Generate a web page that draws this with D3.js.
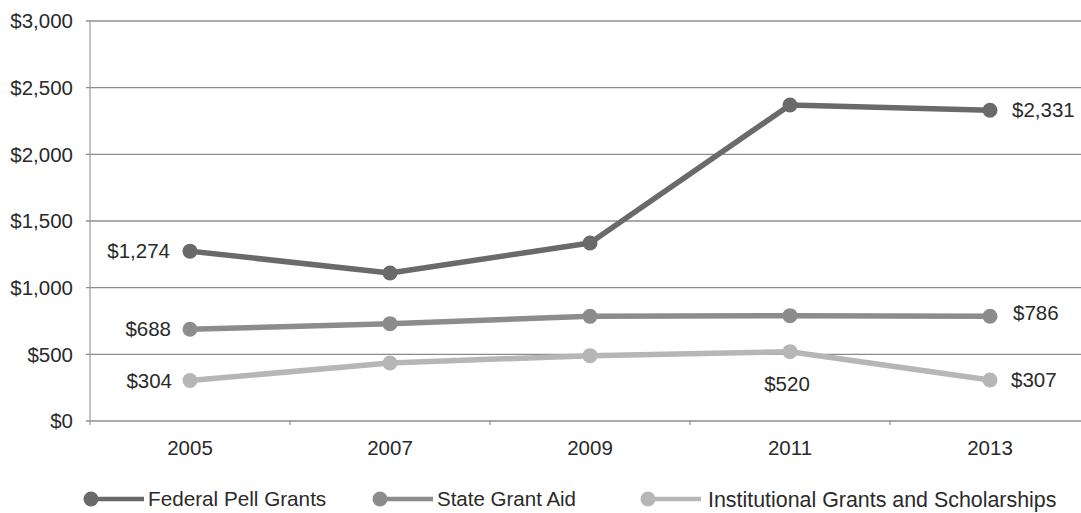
<!DOCTYPE html>
<html>
<head>
<meta charset="utf-8">
<script src="https://cdn.jsdelivr.net/npm/d3@7"></script>
<style>
  html, body { margin: 0; padding: 0; background: #fff; }
  svg { display: block; font-family: "Liberation Sans", Arial, Helvetica, sans-serif; }
</style>
</head>
<body>
<svg id="chart" width="1081" height="513"></svg>
<script>
// Average aid per student, by source and year
const years = ["2005", "2007", "2009", "2011", "2013"];
const pellGrants = [1274, 1110, 1335, 2370, 2331];
const stateAid = [688, 730, 785, 790, 786];
const institutionalAid = [304, 435, 490, 520, 307];
const seriesNames = ["Federal Pell Grants", "State Grant Aid", "Institutional Grants and Scholarships"];
const yTicks = [0, 500, 1000, 1500, 2000, 2500, 3000];

const series = [
  { name: seriesNames[0], values: pellGrants, color: "#6a6a6a" },
  { name: seriesNames[1], values: stateAid, color: "#8c8c8c" },
  { name: seriesNames[2], values: institutionalAid, color: "#b6b6b6" }
];

const svg = d3.select("#chart");
const fmt = v => "$" + d3.format(",")(v);
const fontSize = 20.5;
const textColor = "#2a2a2a";

const x = d3.scalePoint().domain(years).range([90, 1090]).padding(0.5);
const y = d3.scaleLinear().domain([0, 3000]).range([421, 21]);

// horizontal gridlines
svg.append("g")
  .selectAll("line")
  .data(yTicks)
  .join("line")
  .attr("x1", 86).attr("x2", 1081)
  .attr("y1", d => y(d)).attr("y2", d => y(d))
  .attr("stroke", "#8c8c8c")
  .attr("stroke-width", 1.3);

// y axis line
svg.append("line")
  .attr("x1", 90).attr("x2", 90)
  .attr("y1", y(3000)).attr("y2", y(0) + 4)
  .attr("stroke", "#9a9a9a")
  .attr("stroke-width", 1.2);

// y tick labels
svg.append("g")
  .selectAll("text")
  .data(yTicks)
  .join("text")
  .attr("x", 73)
  .attr("y", d => y(d))
  .attr("dy", "0.35em")
  .attr("text-anchor", "end")
  .attr("font-size", fontSize)
  .attr("fill", textColor)
  .text(d => fmt(d));

// x ticks sit between categories
const step = x.step();
const boundaries = years.slice(1).map(yr => x(yr) - step / 2);
svg.append("g")
  .selectAll("line")
  .data(boundaries)
  .join("line")
  .attr("x1", d => d).attr("x2", d => d)
  .attr("y1", y(0)).attr("y2", y(0) + 4)
  .attr("stroke", "#8c8c8c")
  .attr("stroke-width", 1.2);

// x labels
svg.append("g")
  .selectAll("text")
  .data(years)
  .join("text")
  .attr("x", d => x(d))
  .attr("y", 448)
  .attr("dy", "0.35em")
  .attr("text-anchor", "middle")
  .attr("font-size", fontSize)
  .attr("fill", textColor)
  .text(d => d);

// lines and markers
const line = d3.line().x((d, i) => x(years[i])).y(d => y(d));
const plot = svg.append("g");
[...series].reverse().forEach(s => {
  plot.append("path")
    .datum(s.values)
    .attr("d", line)
    .attr("fill", "none")
    .attr("stroke", s.color)
    .attr("stroke-width", 5.5)
    .attr("stroke-linejoin", "round");
  plot.selectAll(null)
    .data(s.values)
    .join("circle")
    .attr("cx", (d, i) => x(years[i]))
    .attr("cy", d => y(d))
    .attr("r", 7.5)
    .attr("fill", s.color);
});

// value labels
const labels = [
  { s: 0, i: 0, anchor: "end", dx: -20, dy: 0 },
  { s: 0, i: 4, anchor: "start", dx: 22, dy: 0 },
  { s: 1, i: 0, anchor: "end", dx: -19, dy: 0 },
  { s: 1, i: 4, anchor: "start", dx: 23, dy: -3 },
  { s: 2, i: 0, anchor: "end", dx: -18, dy: 0 },
  { s: 2, i: 3, anchor: "middle", dx: -3, dy: 32 },
  { s: 2, i: 4, anchor: "start", dx: 21, dy: 0 }
];
svg.append("g")
  .selectAll("text")
  .data(labels)
  .join("text")
  .attr("x", d => x(years[d.i]) + d.dx)
  .attr("y", d => y(series[d.s].values[d.i]) + d.dy)
  .attr("dy", "0.35em")
  .attr("text-anchor", d => d.anchor)
  .attr("font-size", fontSize)
  .attr("fill", textColor)
  .text(d => fmt(series[d.s].values[d.i]));

// legend
const legendX = [91, 380, 648];
const legendText = [57, 57, 60];
const legendSize = [20.7, 20.5, 21.4];
const legend = svg.append("g")
  .selectAll("g")
  .data(series)
  .join("g")
  .attr("transform", (d, i) => `translate(${legendX[i]},499)`);
legend.append("line")
  .attr("x1", 0).attr("x2", 53)
  .attr("stroke", d => d.color)
  .attr("stroke-width", 4.5);
legend.append("circle")
  .attr("r", 7.5)
  .attr("fill", d => d.color);
legend.append("text")
  .attr("x", (d, i) => legendText[i])
  .attr("dy", "0.35em")
  .attr("font-size", (d, i) => legendSize[i])
  .attr("fill", textColor)
  .text(d => d.name);
</script>
</body>
</html>
